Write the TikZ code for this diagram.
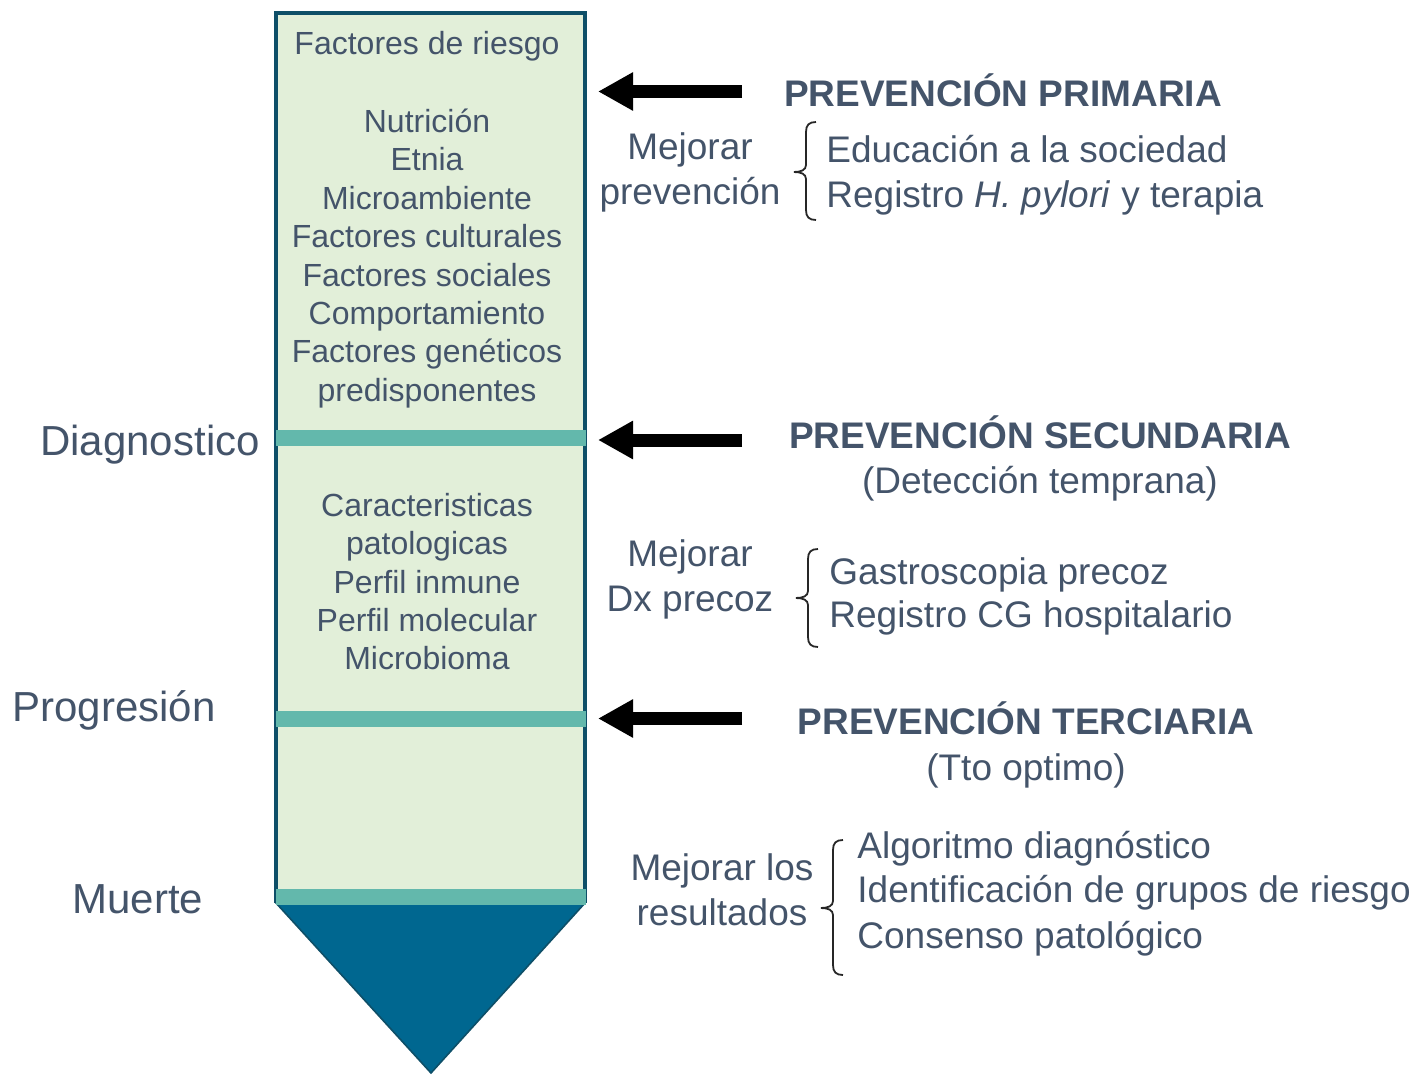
\documentclass[tikz,border=0pt]{standalone}
\usepackage{fontspec}
\setmainfont{Liberation Sans}
\usetikzlibrary{arrows.meta}
\definecolor{txt}{HTML}{44546A}
\definecolor{colfill}{HTML}{E2EFD9}
\definecolor{colline}{HTML}{0E4F68}
\definecolor{band}{HTML}{63B8AC}
\definecolor{tipfill}{HTML}{006790}
% left curly bracket: x of the stem, y top, y of the point, y bottom
\newcommand{\leftcurl}[4]{%
  \draw[line width=0.9pt,black!85] ({#1+10},#2) .. controls ({#1+3},#2) and (#1,{#2+3}) .. (#1,{#2+10})
    -- (#1,{#3-7}) .. controls (#1,{#3-2}) and ({#1-5},#3) .. ({#1-12},#3)
    .. controls ({#1-5},#3) and (#1,{#3+2}) .. (#1,{#3+7})
    -- (#1,{#4-10}) .. controls (#1,{#4-3}) and ({#1+3},#4) .. ({#1+10},#4);}
\begin{document}
\begin{tikzpicture}[x=0.5pt,y=-0.5pt,
  every node/.style={inner sep=0pt,text=txt},
  coltext/.style={anchor=base,font=\fontsize{16}{19.2}\selectfont},
  sidetext/.style={anchor=base,font=\fontsize{18.5}{22}\selectfont},
  listtext/.style={anchor=base west,font=\fontsize{18.5}{22}\selectfont},
  headtext/.style={anchor=base,font=\fontsize{18.5}{22}\selectfont\bfseries},
  stagetext/.style={anchor=base,font=\fontsize{21}{25}\selectfont},
  bigarrow/.style={line width=6.5pt,-{Triangle[width=18pt,length=17.5pt]}}]
\useasboundingbox (0,0) rectangle (1420,1075);

% column
\fill[colfill] (276,13) rectangle (585,903);
\draw[colline,line width=2pt] (276,903) -- (276,13) -- (585,13) -- (585,903);
\filldraw[fill=tipfill,draw=colline,line width=0.8pt] (276,903) -- (585,903) -- (431,1073) -- cycle;
\foreach \y in {438,719,896.5}
  \fill[band] (276,{\y-8}) rectangle (586,{\y+8});

% text in the column
\node[coltext] (riesgo) at (427,55) {Factores de riesgo};
\foreach \t [count=\i] in {Nutrición,Etnia,Microambiente,Factores culturales,Factores sociales,Comportamiento,Factores genéticos,predisponentes}
  \node[coltext] (f\i) at (427,{132.5+38.4*(\i-1)}) {\t};
\foreach \t [count=\i] in {Caracteristicas,patologicas,Perfil inmune,Perfil molecular,Microbioma}
  \node[coltext] (c\i) at (427,{516.5+38.3*(\i-1)}) {\t};

% stages
\node[stagetext] (diag) at (150,455) {Diagnostico};
\node[stagetext] (prog) at (114,721) {Progresión};
\node[stagetext] (muerte) at (138,913) {Muerte};

% arrows
\coordinate (a1) at (742,91.5);  \coordinate (t1) at (598,91.5);
\coordinate (a2) at (742,440);   \coordinate (t2) at (598,440);
\coordinate (a3) at (742,718.5); \coordinate (t3) at (598,718.5);
\draw[bigarrow] (a1) -- (t1);
\draw[bigarrow] (a2) -- (t2);
\draw[bigarrow] (a3) -- (t3);

% primaria
\node[headtext] (prim) at (1003,107) {PREVENCIÓN PRIMARIA};
\node[sidetext] (mp1) at (690,160) {Mejorar};
\node[sidetext] (mp2) at (690,205) {prevención};
\leftcurl{806}{122}{172}{220}
\node[listtext] (p1) at (826,163) {Educación a la sociedad};
\node[listtext] (p2) at (826,208) {Registro \textit{H. pylori} y terapia};

% secundaria
\node[headtext] (sec) at (1040,448) {PREVENCIÓN SECUNDARIA};
\node[sidetext] (sec2) at (1040,493) {(Detección temprana)};
\node[sidetext] (md1) at (690,566) {Mejorar};
\node[sidetext] (md2) at (690,611) {Dx precoz};
\leftcurl{808}{549}{598}{647}
\node[listtext] (s1) at (829,584) {Gastroscopia precoz};
\node[listtext] (s2) at (829,627) {Registro CG hospitalario};

% terciaria
\node[headtext] (ter) at (1026,734) {PREVENCIÓN TERCIARIA};
\node[sidetext] (ter2) at (1026,780) {(Tto optimo)};
\node[sidetext] (mr1) at (722,880) {Mejorar los};
\node[sidetext] (mr2) at (722,925) {resultados};
\leftcurl{833}{840}{908}{975}
\node[listtext] (r1) at (857,858) {Algoritmo diagnóstico};
\node[listtext] (r2) at (857,902) {Identificación de grupos de riesgo};
\node[listtext] (r3) at (857,948) {Consenso patológico};
\end{tikzpicture}
\end{document}
